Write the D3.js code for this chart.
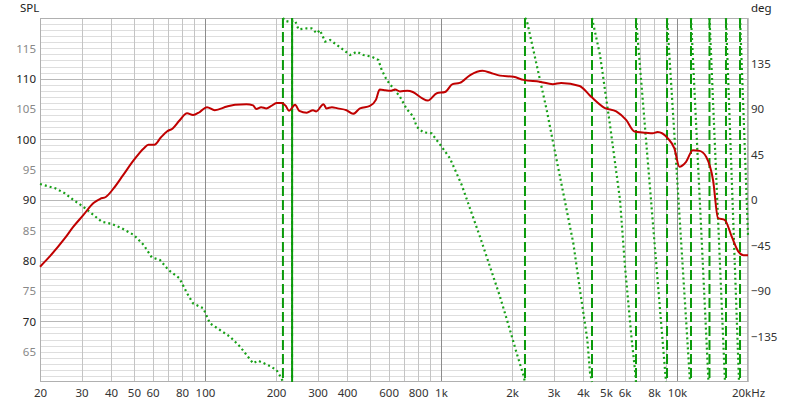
<!DOCTYPE html>
<html><head><meta charset="utf-8">
<script src="https://cdn.jsdelivr.net/npm/d3@7"></script>
<style>
body{margin:0;background:#fff}
svg{display:block}
text{font-family:"Noto Sans","Open Sans",sans-serif;font-size:11.5px}
</style>
</head><body>
<svg id="c" width="800" height="406"></svg>
<script>
// ---- data ----
const xTickValues = [20,30,40,50,60,80,100,200,300,400,600,800,1000,2000,3000,4000,5000,6000,8000,10000,20000];
const xTickLabels = ["20","30","40","50","60","80","100","200","300","400","600","800","1k","2k","3k","4k","5k","6k","8k","10k","20kHz"];
const gridFreqs = [20,30,40,50,60,70,80,90,100,200,300,400,500,600,700,800,900,1000,2000,3000,4000,5000,6000,7000,8000,9000,10000,20000];
const decadeFreqs = [100,1000,10000];
const splTickValues = [65,70,75,80,85,90,95,100,105,110,115];
const degTickValues = [-135,-90,-45,0,45,90,135];

const splFreq = [20,22,25.5,27.7,30.5,33.7,36,38,41,45,50,55,57.6,61,65,69,73,78,84,89,95,102,110,124,134,150,160,165,173,182,191,201,211,220,227,241,251,270,287,296,318,327,345,365,398,424,454,500,530,550,580,610,640,670,720,760,830,880,960,1040,1120,1200,1330,1500,1640,1780,2030,2240,2620,2980,3230,3870,4330,4930,5530,6090,6600,7390,7890,8280,9130,9750,10240,10930,11670,12470,13310,14220,14930,15960,17050,18210,19140,20000];
const splDb = [79.0,80.7,83.7,85.6,87.5,89.5,90.2,90.5,91.9,94.1,96.6,98.5,99.1,99.1,100.3,101.3,101.8,103.1,104.3,104.0,104.5,105.3,104.8,105.4,105.7,105.8,105.6,105.0,105.3,105.1,105.5,106.0,106.0,105.5,104.7,105.7,104.7,104.4,104.8,104.6,105.8,105.1,105.3,105.1,104.8,104.2,105.1,105.5,106.5,108.2,108.1,108.0,108.2,107.9,108.0,107.8,106.8,106.4,107.6,107.8,109.1,109.3,110.6,111.3,110.9,110.5,110.3,109.8,109.5,109.1,109.3,108.8,107.0,105.2,104.6,103.2,101.3,101.1,101.0,101.2,100.2,98.5,95.5,96.3,98.2,98.1,97.1,93.3,87.0,86.7,84.0,81.5,80.9,80.9];

// phase (wrapped) segments: [freq, degrees]
const phaseSeg1 = [[20,15.8],[23.2,11.6],[25.5,6.6],[27.7,0],[30.5,-6.6],[33.7,-14.8],[36.5,-21.5],[40.3,-23.7],[44.4,-28],[50,-34.6],[55,-44.5],[59.5,-56.7],[64.5,-59.3],[70,-69.2],[78,-77.5],[84,-92.3],[89,-102.2],[98.4,-107.1],[105,-122],[115.8,-128.6],[127.7,-135.2],[140.8,-145],[160,-161.5],[168,-158.9],[188.6,-164.2],[201,-168.2],[211,-176.3],[214,-180]];
const phaseSeg2 = [[214,180],[218,177.3],[227,176.3],[241,177.3],[249,168.8],[270,169.8],[283,169.8],[298,164.8],[307,168],[323,156.6],[339,158.2],[362,153.3],[386,148.4],[412,143.4],[440,146.7],[469,143.4],[509,141.7],[543,138.5],[561,128.6],[589,118.7],[628,110.5],[670,102.2],[716,90],[764,82.4],[789,72.5],[840,67],[913,65.9],[1007,52.7],[1092,41.2],[1225,14.8],[1350,-13.2],[1463,-36.3],[1614,-66],[1779,-95.6],[1961,-128.6],[2094,-151.6],[2234,-173],[2270,-180]];
const phaseSeg3 = [[2270,180],[2308,178],[2806,89],[2992,56],[3300,6.6],[3638,-42.8],[3882,-89],[4170,-138],[4282,-171],[4365,-180]];
const phaseSeg4 = [[4365,180],[4720,143.4],[5204,74],[5738,0],[6024,-66],[6432,-138.5],[6638,-168],[6706,-180]];
const phaseSeg5 = [[6706,180],[7762,0],[8987,-180]];
const phaseSeg6 = [[9076,180],[10150,0],[11357,-180]];
const phaseSeg7 = [[11468,180],[12492,0],[13601,-180]];
const phaseSeg8 = [[13736,180],[14814,0],[15978,-180]];
const phaseSeg9 = [[16134,180],[17196,0],[18322,-180]];
const phaseSeg10 = [[18502,180],[20000,-35]];
const phaseWrapFreqs = [214,234,234,2270,4365,6706,9076,11468,13736,16134,18502];

// ---- layout ----
const L = 40, R = 748, T = 18, B = 382;
const svg = d3.select("#c");
const x = d3.scaleLog().domain([20,20000]).range([L,R]);
const y = d3.scaleLinear().domain([60,120]).range([B,T]);
const yd = d3.scaleLinear().domain([-180,180]).range([B,T]);
const px = v => Math.round(v) + 0.5;

// horizontal grid
const gH = svg.append("g");
gH.selectAll("line").data(d3.range(61,120)).join("line")
  .attr("x1",L).attr("x2",R)
  .attr("y1",d=>px(y(d))).attr("y2",d=>px(y(d)))
  .attr("stroke",d=>d%10===0?"#b8b8b8":"#dedede").attr("stroke-width",1);
// vertical grid
svg.append("g").selectAll("line").data(gridFreqs).join("line")
  .attr("y1",T).attr("y2",B)
  .attr("x1",d=>px(x(d))).attr("x2",d=>px(x(d)))
  .attr("stroke",d=>decadeFreqs.includes(d)?"#8c8c8c":"#c4c4c4").attr("stroke-width",1);
// frame
svg.append("rect").attr("x",L+0.5).attr("y",T+0.5).attr("width",R-L-1).attr("height",B-T-1)
  .attr("fill","none").attr("stroke","#b0b0b0");

// axes
const axB = svg.append("g").attr("transform",`translate(0,${B})`)
  .call(d3.axisBottom(x).tickValues(xTickValues).tickFormat((d,i)=>xTickLabels[i]).tickSize(0).tickPadding(7));
const axL = svg.append("g").attr("transform",`translate(${L},0)`)
  .call(d3.axisLeft(y).tickValues(splTickValues).tickFormat(d3.format("d")).tickSize(0).tickPadding(4));
const axR = svg.append("g").attr("transform",`translate(${R},0)`)
  .call(d3.axisRight(yd).tickValues(degTickValues).tickFormat(d3.format("d")).tickSize(0).tickPadding(3));
[axB,axL,axR].forEach(a=>{a.select(".domain").remove(); a.selectAll("text").style("font-family",null).style("font-size",null).attr("font-family",null).attr("font-size",null);});
axB.selectAll("text").attr("fill","#333");
axL.selectAll("text").attr("fill",d=>d%10===0?"#222":"#888");
axR.selectAll("text").attr("fill","#333");
svg.attr("font-family",null);

svg.append("text").attr("x",20).attr("y",12).attr("fill","#222").text("SPL");
svg.append("text").attr("x",751).attr("y",12).attr("fill","#222").text("deg");

// phase wrap lines (dashed)
svg.append("g").selectAll("line").data(phaseWrapFreqs).join("line")
  .attr("x1",d=>x(d)).attr("x2",d=>x(d)).attr("y1",T).attr("y2",B)
  .attr("stroke","#0a9a0a").attr("stroke-width",2)
  .attr("stroke-dasharray","10,4")
  .attr("stroke-dashoffset",(d,i)=>(i>0&&phaseWrapFreqs[i-1]===d)?7:0);

// phase dotted curve
const phaseLine = d3.line().x(d=>x(d[0])).y(d=>yd(d[1]));
const segs = [phaseSeg1,phaseSeg2,phaseSeg3,phaseSeg4,phaseSeg5,phaseSeg6,phaseSeg7,phaseSeg8,phaseSeg9,phaseSeg10];
svg.append("g").selectAll("path").data(segs).join("path")
  .attr("d",phaseLine).attr("fill","none")
  .attr("stroke","#17a017").attr("stroke-width",2.2).attr("stroke-dasharray","2,3");

// SPL line
const splData = splFreq.map((f,i)=>[f,splDb[i]]);
svg.append("path").datum(splData)
  .attr("d",d3.line().x(d=>x(d[0])).y(d=>y(d[1])).curve(d3.curveMonotoneX))
  .attr("fill","none").attr("stroke","#c00000").attr("stroke-width",2);
</script>
</body></html>
